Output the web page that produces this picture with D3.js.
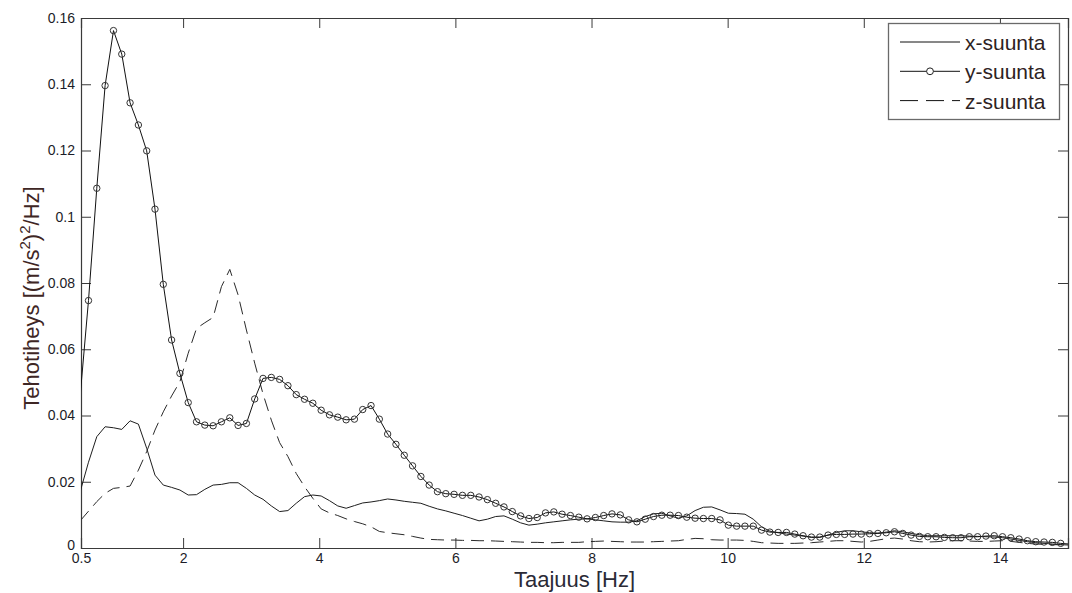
<!DOCTYPE html>
<html>
<head>
<meta charset="utf-8">
<script src="https://cdn.jsdelivr.net/npm/d3@7"></script>
<style>
  html, body { margin: 0; padding: 0; background: #fff; }
  svg { display: block; font-family: "Liberation Sans", Arial, sans-serif; }
</style>
</head>
<body>
<svg id="chart" width="1072" height="593"></svg>
<script>
// Frequency bins of the spectrum [Hz]
const frequencies = [
  0.488, 0.610, 0.732, 0.854, 0.977, 1.099, 1.221, 1.343, 1.465, 1.587,
  1.709, 1.831, 1.953, 2.075, 2.197, 2.319, 2.441, 2.563, 2.686, 2.808,
  2.930, 3.052, 3.174, 3.296, 3.418, 3.540, 3.662, 3.784, 3.906, 4.028,
  4.150, 4.272, 4.395, 4.517, 4.639, 4.761, 4.883, 5.005, 5.127, 5.249,
  5.371, 5.493, 5.615, 5.737, 5.859, 5.981, 6.104, 6.226, 6.348, 6.470,
  6.592, 6.714, 6.836, 6.958, 7.080, 7.202, 7.324, 7.446, 7.568, 7.690,
  7.813, 7.935, 8.057, 8.179, 8.301, 8.423, 8.545, 8.667, 8.789, 8.911,
  9.033, 9.155, 9.277, 9.399, 9.522, 9.644, 9.766, 9.888, 10.010, 10.132,
  10.254, 10.376, 10.498, 10.620, 10.742, 10.864, 10.986, 11.108, 11.231, 11.353,
  11.475, 11.597, 11.719, 11.841, 11.963, 12.085, 12.207, 12.329, 12.451, 12.573,
  12.695, 12.817, 12.940, 13.062, 13.184, 13.306, 13.428, 13.550, 13.672, 13.794,
  13.916, 14.038, 14.160, 14.282, 14.404, 14.526, 14.648, 14.770, 14.893, 15.015
];

// Power spectral density, x direction [(m/s^2)^2/Hz]
const xSuunta = [
  0.0170, 0.0259, 0.0336, 0.0366, 0.0363, 0.0358, 0.0384, 0.0374, 0.0301, 0.0220,
  0.0190, 0.0183, 0.0175, 0.0160, 0.0161, 0.0177, 0.0190, 0.0192, 0.0197, 0.0197,
  0.0180, 0.0160, 0.0147, 0.0127, 0.0110, 0.0113, 0.0135, 0.0155, 0.0160, 0.0157,
  0.0143, 0.0127, 0.0120, 0.0128, 0.0136, 0.0139, 0.0143, 0.0148, 0.0145, 0.0141,
  0.0138, 0.0135, 0.0126, 0.0118, 0.0112, 0.0105, 0.0098, 0.0090, 0.0082, 0.0087,
  0.0095, 0.0097, 0.0087, 0.0076, 0.0069, 0.0072, 0.0076, 0.0079, 0.0082, 0.0085,
  0.0087, 0.0088, 0.0085, 0.0082, 0.0079, 0.0078, 0.0078, 0.0082, 0.0095, 0.0103,
  0.0105, 0.0097, 0.0090, 0.0097, 0.0113, 0.0123, 0.0124, 0.0115, 0.0105, 0.0104,
  0.0102, 0.0087, 0.0064, 0.0051, 0.0046, 0.0042, 0.0039, 0.0036, 0.0032, 0.0032,
  0.0039, 0.0047, 0.0052, 0.0052, 0.0049, 0.0046, 0.0045, 0.0048, 0.0052, 0.0049,
  0.0044, 0.0040, 0.0037, 0.0037, 0.0037, 0.0037, 0.0037, 0.0036, 0.0035, 0.0034,
  0.0033, 0.0031, 0.0027, 0.0023, 0.0019, 0.0016, 0.0014, 0.0012, 0.0010, 0.0009
];

// Power spectral density, y direction
const ySuunta = [
  0.0460, 0.0747, 0.1086, 0.1396, 0.1562, 0.1491, 0.1344, 0.1277, 0.1199, 0.1023,
  0.0796, 0.0628, 0.0527, 0.0439, 0.0381, 0.0371, 0.0369, 0.0381, 0.0393, 0.0370,
  0.0376, 0.0450, 0.0512, 0.0515, 0.0509, 0.0490, 0.0463, 0.0449, 0.0437, 0.0416,
  0.0402, 0.0395, 0.0387, 0.0389, 0.0418, 0.0430, 0.0389, 0.0344, 0.0313, 0.0280,
  0.0248, 0.0216, 0.0190, 0.0170, 0.0164, 0.0162, 0.0159, 0.0159, 0.0154, 0.0146,
  0.0135, 0.0124, 0.0110, 0.0097, 0.0089, 0.0092, 0.0106, 0.0109, 0.0102, 0.0098,
  0.0093, 0.0088, 0.0092, 0.0098, 0.0103, 0.0100, 0.0085, 0.0079, 0.0087, 0.0095,
  0.0099, 0.0099, 0.0098, 0.0093, 0.0090, 0.0089, 0.0089, 0.0085, 0.0069, 0.0066,
  0.0066, 0.0066, 0.0054, 0.0048, 0.0047, 0.0047, 0.0042, 0.0037, 0.0033, 0.0033,
  0.0039, 0.0041, 0.0041, 0.0042, 0.0042, 0.0043, 0.0044, 0.0046, 0.0049, 0.0044,
  0.0039, 0.0035, 0.0034, 0.0034, 0.0032, 0.0031, 0.0031, 0.0034, 0.0034, 0.0036,
  0.0037, 0.0034, 0.0031, 0.0027, 0.0022, 0.0019, 0.0018, 0.0017, 0.0014, 0.0012
];

// Power spectral density, z direction
const zSuunta = [
  0.0082, 0.0111, 0.0140, 0.0165, 0.0180, 0.0183, 0.0187, 0.0235, 0.0291, 0.0356,
  0.0411, 0.0459, 0.0502, 0.0588, 0.0663, 0.0680, 0.0696, 0.0789, 0.0841, 0.0764,
  0.0658, 0.0558, 0.0465, 0.0386, 0.0318, 0.0276, 0.0225, 0.0185, 0.0150, 0.0118,
  0.0106, 0.0098, 0.0088, 0.0080, 0.0073, 0.0064, 0.0050, 0.0046, 0.0043, 0.0040,
  0.0035, 0.0030, 0.0026, 0.0025, 0.0024, 0.0024, 0.0023, 0.0023, 0.0022, 0.0022,
  0.0021, 0.0020, 0.0019, 0.0018, 0.0017, 0.0017, 0.0016, 0.0016, 0.0017, 0.0017,
  0.0017, 0.0019, 0.0020, 0.0021, 0.0020, 0.0019, 0.0018, 0.0018, 0.0018, 0.0019,
  0.0020, 0.0021, 0.0022, 0.0026, 0.0029, 0.0028, 0.0025, 0.0024, 0.0024, 0.0024,
  0.0023, 0.0020, 0.0016, 0.0015, 0.0014, 0.0014, 0.0014, 0.0015, 0.0016, 0.0018,
  0.0020, 0.0022, 0.0022, 0.0020, 0.0018, 0.0020, 0.0024, 0.0028, 0.0030, 0.0027,
  0.0022, 0.0019, 0.0018, 0.0019, 0.0021, 0.0022, 0.0022, 0.0021, 0.0020, 0.0020,
  0.0021, 0.0022, 0.0020, 0.0017, 0.0014, 0.0012, 0.0011, 0.0010, 0.0010, 0.0009
];

const seriesNames = ["x-suunta", "y-suunta", "z-suunta"];
const xTicks = [0.5, 2, 4, 6, 8, 10, 12, 14];
const xTickLabels = ["0.5", "2", "4", "6", "8", "10", "12", "14"];
const yTicks = [0, 0.02, 0.04, 0.06, 0.08, 0.1, 0.12, 0.14, 0.16];
const yTickLabels = ["0", "0.02", "0.04", "0.06", "0.08", "0.1", "0.12", "0.14", "0.16"];

const svg = d3.select("#chart");
const plot = { left: 81, right: 1068, top: 18, bottom: 548 };

const x = d3.scaleLinear().domain([0.5, 15]).range([plot.left, plot.right]);
const y = d3.scaleLinear().domain([0, 0.16]).range([plot.bottom, plot.top]);

svg.append("defs").append("clipPath").attr("id", "plot-clip")
  .append("rect")
  .attr("x", plot.left).attr("y", plot.top)
  .attr("width", plot.right - plot.left).attr("height", plot.bottom - plot.top);

const tickLen = 10;
const axisColor = "#3a3a3a";
const tickTextColor = "#1c1c28";

// Axes with inward ticks on all four sides
const axisBottom = d3.axisBottom(x).tickValues(xTicks).tickSize(-tickLen).tickPadding(5)
  .tickFormat((d, i) => xTickLabels[i]);
const axisTop = d3.axisTop(x).tickValues(xTicks.slice(1)).tickSize(-tickLen).tickFormat("");
const axisLeft = d3.axisLeft(y).tickValues(yTicks).tickSize(-tickLen).tickPadding(6)
  .tickFormat((d, i) => yTickLabels[i]);
const axisRight = d3.axisRight(y).tickValues(yTicks.slice(1, -1)).tickSize(-tickLen).tickFormat("");

function styleAxis(g) {
  g.select(".domain").attr("stroke", axisColor).attr("stroke-width", 1.2);
  g.selectAll(".tick line").attr("stroke", axisColor).attr("stroke-width", 1);
  g.selectAll(".tick text").attr("fill", tickTextColor)
    .style("font-family", '"Liberation Sans", Arial, sans-serif').style("font-size", "14px");
}

svg.append("g").attr("transform", `translate(0,${plot.bottom})`).call(axisBottom).call(styleAxis);
svg.append("g").attr("transform", `translate(0,${plot.top})`).call(axisTop).call(styleAxis);
const gLeft = svg.append("g").attr("transform", `translate(${plot.left},0)`).call(axisLeft).call(styleAxis);
gLeft.selectAll(".tick line").filter(d => d === 0 || d === 0.16).remove();
gLeft.selectAll(".tick text").filter(d => d === 0).attr("dy", "0.1em");
svg.append("g").attr("transform", `translate(${plot.right},0)`).call(axisRight).call(styleAxis);

// Series lines
const rows = frequencies.map((f, i) => ({ f, x: xSuunta[i], y: ySuunta[i], z: zSuunta[i] }));
const lineOf = key => d3.line().x(d => x(d.f)).y(d => y(d[key]));

const lines = svg.append("g").attr("clip-path", "url(#plot-clip)");
lines.append("path").datum(rows).attr("d", lineOf("z"))
  .attr("fill", "none").attr("stroke", "#2a2a2a").attr("stroke-width", 1)
  .attr("stroke-dasharray", "13,7");
lines.append("path").datum(rows).attr("d", lineOf("x"))
  .attr("fill", "none").attr("stroke", "#1e1e1e").attr("stroke-width", 1);
lines.append("path").datum(rows).attr("d", lineOf("y"))
  .attr("fill", "none").attr("stroke", "#111").attr("stroke-width", 1);

lines.append("g").selectAll("circle")
  .data(rows.filter(d => d.f >= 0.5 && d.f <= 15))
  .join("circle")
  .attr("cx", d => x(d.f)).attr("cy", d => y(d.y)).attr("r", 3.2)
  .attr("fill", "none").attr("stroke", "#333").attr("stroke-width", 1);

// Axis titles
svg.append("text")
  .attr("x", (plot.left + plot.right) / 2).attr("y", 587)
  .attr("text-anchor", "middle")
  .attr("fill", "#2a2a36")
  .style("font-size", "22px")
  .text("Taajuus [Hz]");

const yTitle = svg.append("text")
  .attr("transform", "translate(39,298) rotate(-90)")
  .attr("text-anchor", "middle")
  .attr("fill", "#3e2624")
  .style("font-size", "22px");
yTitle.append("tspan").text("Tehotiheys [(m/s");
yTitle.append("tspan").attr("dy", -9).style("font-size", "15px").text("2");
yTitle.append("tspan").attr("dy", 9).text(")");
yTitle.append("tspan").attr("dy", -9).style("font-size", "15px").text("2");
yTitle.append("tspan").attr("dy", 9).text("/Hz]");

// Legend
const legend = svg.append("g");
legend.append("rect")
  .attr("x", 888.5).attr("y", 23.5).attr("width", 171).attr("height", 96)
  .attr("fill", "#fff").attr("stroke", "#6a6a6a").attr("stroke-width", 1.3);

const legendRows = legend.selectAll("g.entry").data(seriesNames).join("g")
  .attr("class", "entry")
  .attr("transform", (d, i) => `translate(0,${42 + i * 29.3})`);

legendRows.append("line")
  .attr("x1", 900).attr("x2", 960).attr("y1", 0).attr("y2", 0)
  .attr("stroke", "#111").attr("stroke-width", 1)
  .attr("stroke-dasharray", (d, i) => i === 2 ? "18,8" : null);
legendRows.filter((d, i) => i === 1).append("circle")
  .attr("cx", 930).attr("cy", 0).attr("r", 3.4)
  .attr("fill", "#fff").attr("stroke", "#222").attr("stroke-width", 1);
legendRows.append("text")
  .attr("x", 965).attr("y", 8)
  .attr("fill", "#2e2222")
  .style("font-size", "21px")
  .text(d => d);
</script>
</body>
</html>
